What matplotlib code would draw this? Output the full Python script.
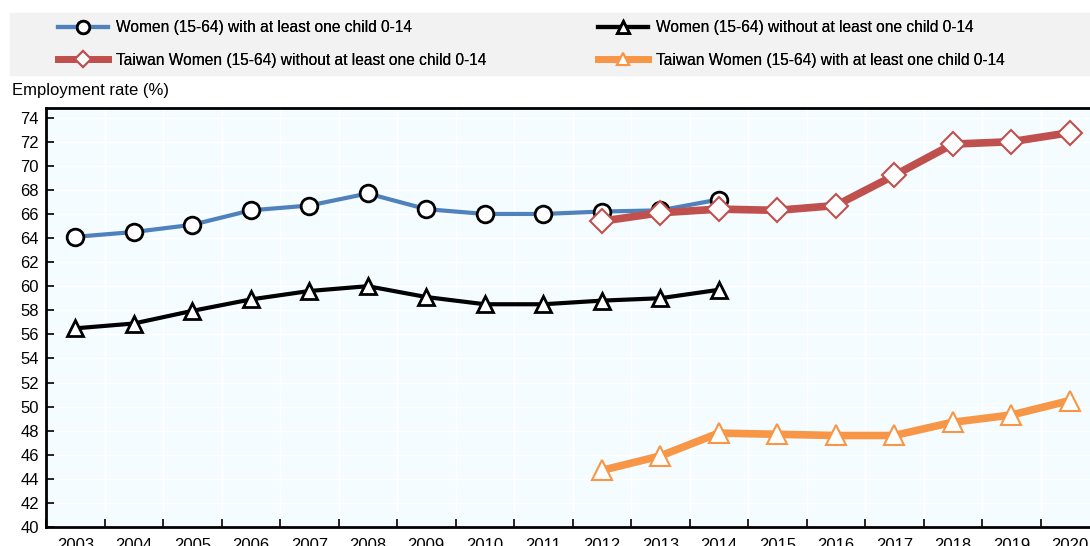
import numpy as np
import matplotlib.pyplot as plt
from matplotlib.lines import Line2D

years = list(range(2003, 2021))

women_with_child = [64.1, 64.5, 65.1, 66.3, 66.7, 67.7, 66.4, 66.0, 66.0, 66.2, 66.3, 67.2]
women_without_child = [56.5, 56.9, 57.95, 58.9, 59.6, 60.0, 59.1, 58.5, 58.5, 58.8, 59.0, 59.7]
tw_without_child = [65.4, 66.1, 66.4, 66.3, 66.7, 69.2, 71.8, 72.0, 72.75]
tw_with_child = [44.7, 45.9, 47.8, 47.7, 47.6, 47.6, 48.7, 49.3, 50.5]

plt.rcParams['font.family'] = ['Liberation Sans', 'DejaVu Sans']

W, H = 1090, 546
fig = plt.figure(figsize=(W / 100, H / 100), dpi=100)
ax = fig.add_axes([46 / W, 19 / H, (1099 - 46) / W, (527 - 108) / H])
ax.set_facecolor('#f4fcff')

x = np.arange(len(years))
x_old = x[:len(women_with_child)]
x_tw = x[len(years) - len(tw_without_child):]

ax.plot(x_old, women_with_child, color='#4f81bd', lw=3, marker='o', ms=12,
        mfc='white', mec='black', mew=2, zorder=3)
ax.plot(x_old, women_without_child, color='black', lw=3, marker='^', ms=12,
        mfc='white', mec='black', mew=2, zorder=3)
ax.plot(x_tw, tw_without_child, color='#c0504d', lw=5.5, marker='D', ms=12,
        mfc='white', mec='#c0504d', mew=1.5, zorder=4)
ax.plot(x_tw, tw_with_child, color='#f79646', lw=5.5, marker='^', ms=15,
        mfc='white', mec='#f79646', mew=1.5, zorder=4)

ax.set_xlim(-0.5, len(years) - 0.5)
ax.set_ylim(40, 74.8)
ax.set_yticks(np.arange(40, 75, 2))
ax.set_xticks(x)
ax.set_xticklabels([str(y) for y in years])
ax.set_xticks(np.arange(-0.5, len(years), 1), minor=True)
ax.tick_params(axis='x', which='major', length=0, labelsize=12, pad=8)
ax.tick_params(axis='x', which='minor', direction='in', length=6, width=1.2)
ax.tick_params(axis='y', direction='in', length=6, width=1.2, labelsize=12, pad=5)
ax.grid(True, which='minor', axis='x', color='white', lw=1)
ax.grid(True, which='major', axis='y', color='white', lw=1)
for s in ['left', 'bottom', 'top']:
    ax.spines[s].set_linewidth(2)
ax.spines['right'].set_visible(False)

fig.text(12 / W, 1 - 90 / H, 'Employment rate (%)', fontsize=12, va='center')

# legend band
fig.patches.append(plt.Rectangle((10 / W, 1 - 75 / H), 1080 / W, 62 / H,
                                 transform=fig.transFigure, color='#f2f2f2', zorder=0))
handles = [
    Line2D([], [], color='#4f81bd', lw=3, marker='o', ms=9, mfc='white', mec='black', mew=2),
    Line2D([], [], color='#c0504d', lw=5, marker='D', ms=8, mfc='white', mec='#c0504d', mew=1.5),
    Line2D([], [], color='black', lw=3, marker='^', ms=9, mfc='white', mec='black', mew=2),
    Line2D([], [], color='#f79646', lw=5, marker='^', ms=9, mfc='white', mec='#f79646', mew=1.5),
]
labels = [
    'Women (15-64) with at least one child 0-14',
    'Taiwan Women (15-64) without at least one child 0-14',
    'Women (15-64) without at least one child 0-14',
    'Taiwan Women (15-64) with at least one child 0-14',
]
for i, x0 in enumerate([58, 598]):
    leg = fig.legend(handles[2 * i:2 * i + 2], labels[2 * i:2 * i + 2], loc='center left',
                     bbox_to_anchor=(x0 / W, 1 - 44 / H), frameon=False, fontsize=11.2,
                     handlelength=3.2, handletextpad=0.5, labelspacing=1.1,
                     borderpad=0, borderaxespad=0)
    fig.add_artist(leg)

fig.savefig('out.png', dpi=100)
